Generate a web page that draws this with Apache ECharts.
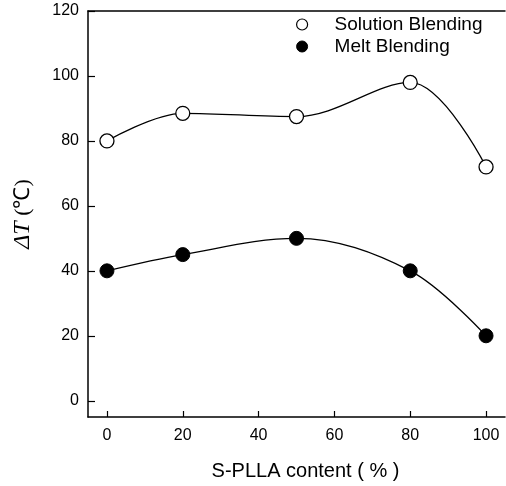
<!DOCTYPE html>
<html>
<head>
<meta charset="utf-8">
<script src="https://cdn.jsdelivr.net/npm/echarts@6/dist/echarts.min.js"></script>
<style>
  html, body { margin: 0; padding: 0; background: #fff; }
  #chart { width: 506px; height: 486px; }
</style>
</head>
<body>
<div id="chart"></div>
<script>
// S-PLLA content (%) on the x axis
const contents = [0, 20, 50, 80, 100];
// ΔT (℃) for each preparation route
const solutionBlending = [80, 88.5, 87.5, 98, 72];
const meltBlending = [40, 45, 50, 40, 20];
// tick positions
const xTicks = [0, 20, 40, 60, 80, 100];
const yTicks = [0, 20, 40, 60, 80, 100, 120];

const ink = '#000';
const sans = 'Liberation Sans, Arial, Helvetica, sans-serif';
const serif = 'Liberation Serif, Times New Roman, serif';

const pairs = (xs, ys) => xs.map((x, i) => [x, ys[i]]);

const chart = echarts.init(document.getElementById('chart'), null, { renderer: 'canvas' });

chart.setOption({
  backgroundColor: '#fff',
  animation: false,
  grid: { left: 88, right: 1, top: 11, bottom: 69 },
  legend: {
    orient: 'vertical',
    left: 291,
    top: 10,
    itemWidth: 11,
    itemHeight: 11,
    itemGap: 3,
    textStyle: { fontFamily: sans, fontSize: 19, color: ink, padding: [0, 0, 0, 22] },
    data: [
      { name: 'Solution Blending', icon: 'circle', itemStyle: { color: '#fff', borderColor: ink, borderWidth: 1.2 } },
      { name: 'Melt Blending', icon: 'circle', itemStyle: { color: ink, borderColor: ink, borderWidth: 1 } }
    ]
  },
  xAxis: [
    {
      type: 'value',
      min: -5,
      max: 105,
      position: 'bottom',
      name: 'S-PLLA content ( % )',
      nameLocation: 'middle',
      nameGap: 44,
      nameTextStyle: { fontFamily: sans, fontSize: 20, color: ink, padding: [0, 0, 0, 18] },
      axisLine: { show: true, onZero: false, lineStyle: { color: ink, width: 1.5 } },
      axisTick: { show: true, inside: true, length: 6, customValues: xTicks, lineStyle: { color: ink, width: 1.2 } },
      axisLabel: { customValues: xTicks, margin: 11, fontFamily: sans, fontSize: 16, color: ink },
      splitLine: { show: false }
    },
    {
      type: 'value',
      min: -5,
      max: 105,
      position: 'top',
      axisLine: { show: true, onZero: false, lineStyle: { color: ink, width: 1.5 } },
      axisTick: { show: false },
      axisLabel: { show: false },
      splitLine: { show: false }
    }
  ],
  yAxis: {
    type: 'value',
    min: -5,
    max: 120,
    name: '{i|ΔT} (℃)',
    nameLocation: 'middle',
    nameGap: 53,
    nameRotate: 90,
    nameTextStyle: {
      fontFamily: serif,
      fontSize: 22,
      color: ink,
      rich: { i: { fontStyle: 'italic', fontFamily: serif, fontSize: 24, color: ink } }
    },
    axisLine: { show: true, onZero: false, lineStyle: { color: ink, width: 1.5 } },
    axisTick: { show: true, inside: true, length: 7, customValues: yTicks, lineStyle: { color: ink, width: 1.2 } },
    axisLabel: { customValues: yTicks, margin: 9, fontFamily: sans, fontSize: 16, color: ink },
    splitLine: { show: false }
  },
  series: [
    {
      name: 'Solution Blending',
      type: 'line',
      data: pairs(contents, solutionBlending),
      smooth: 0.35,
      symbol: 'circle',
      symbolSize: 14,
      lineStyle: { color: ink, width: 1.3 },
      itemStyle: { color: '#fff', borderColor: ink, borderWidth: 1.3 },
      z: 3
    },
    {
      name: 'Melt Blending',
      type: 'line',
      data: pairs(contents, meltBlending),
      smooth: 0.35,
      symbol: 'circle',
      symbolSize: 14,
      lineStyle: { color: ink, width: 1.3 },
      itemStyle: { color: ink, borderColor: ink, borderWidth: 1 },
      z: 3
    }
  ]
});
</script>
</body>
</html>
